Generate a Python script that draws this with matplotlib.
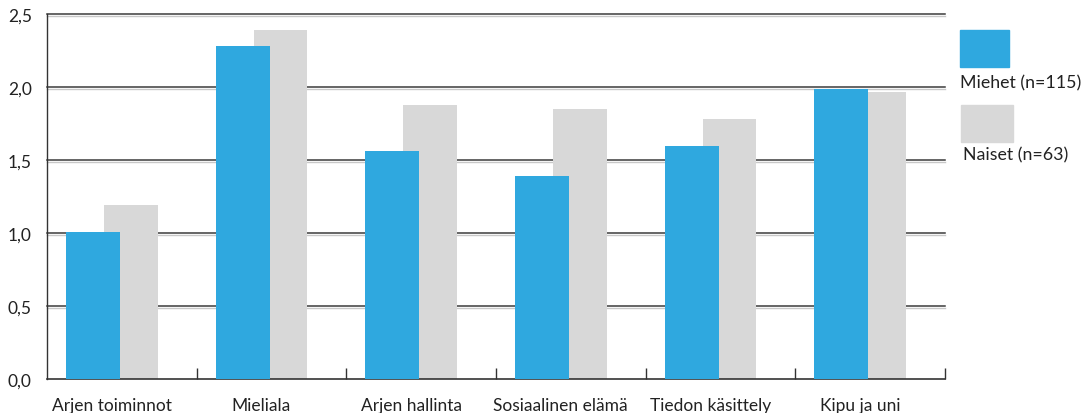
import matplotlib.pyplot as plt
from matplotlib.patches import Rectangle
from matplotlib import transforms

plt.rcParams['font.family'] = ['Lato', 'DejaVu Sans']

categories = ['Arjen toiminnot', 'Mieliala', 'Arjen hallinta',
              'Sosiaalinen elämä', 'Tiedon käsittely', 'Kipu ja uni']
miehet = [1.01, 2.28, 1.56, 1.39, 1.60, 1.99]
naiset = [1.19, 2.39, 1.88, 1.85, 1.78, 1.97]
y_ticks = [0.0, 0.5, 1.0, 1.5, 2.0, 2.5]
y_labels = ['0,0', '0,5', '1,0', '1,5', '2,0', '2,5']
series_labels = ['Miehet (n=115)', 'Naiset (n=63)']

blue = '#2fa8df'
grey = '#d8d8d8'
W, H = 1083, 414

fig = plt.figure(figsize=(W / 100, H / 100), dpi=100)
ax = fig.add_axes([47 / W, 34 / H, (945 - 47) / W, (380 - 15.3) / H])

n = len(categories)
xs = list(range(n))
bw = 0.36
# harmaa taakse, sininen päälle
ax.bar([x + 0.38 for x in xs], naiset, width=bw, align='edge', color=grey, zorder=2)
ax.bar([x + 0.127 for x in xs], miehet, width=bw, align='edge', color=blue, zorder=3)

ax.set_xlim(0, n)
ax.set_ylim(0, 2.5)

# vaakaviivat + vaalea varjo alle
ytr = ax.get_yaxis_transform()
shadow = transforms.offset_copy(ytr, fig=fig, x=0, y=-1.5, units='dots')
for y in y_ticks[1:]:
    ax.plot([0, 1], [y, y], color='#c8c8c8', lw=1.0, zorder=1, transform=shadow, clip_on=False)
    ax.plot([0, 1], [y, y], color='#3c3c3c', lw=1.1, zorder=1.5, transform=ytr, clip_on=False)

ax.set_yticks(y_ticks)
ax.set_yticklabels(y_labels)
ax.tick_params(axis='y', length=0, pad=11, labelsize=12.5, colors='#222222')

ax.set_xticks(range(1, n + 1))
ax.set_xticklabels([])
ax.tick_params(axis='x', which='major', direction='in', length=8, width=1, color='#333333')
ax.set_xticks([x + 0.433 for x in xs], minor=True)
ax.set_xticklabels(categories, minor=True)
ax.tick_params(axis='x', which='minor', length=0, pad=13, labelsize=12.5, colors='#222222')

for s in ['top', 'right']:
    ax.spines[s].set_visible(False)
ax.spines['left'].set_color('#333333')
ax.spines['bottom'].set_color('#333333')
ax.spines['left'].set_linewidth(1)
ax.spines['bottom'].set_linewidth(1.2)

# selite oikealle
fig.patches.append(Rectangle((960 / W, 1 - 68 / H), 49 / W, 37 / H,
                             transform=fig.transFigure, color=blue))
fig.text(960 / W, 1 - 88 / H, series_labels[0], fontsize=12.8, color='#222222', va='baseline')
fig.patches.append(Rectangle((961 / W, 1 - 143 / H), 52 / W, 37 / H,
                             transform=fig.transFigure, color=grey))
fig.text(963 / W, 1 - 160 / H, series_labels[1], fontsize=12.8, color='#222222', va='baseline')

fig.savefig('out.png', dpi=100)
